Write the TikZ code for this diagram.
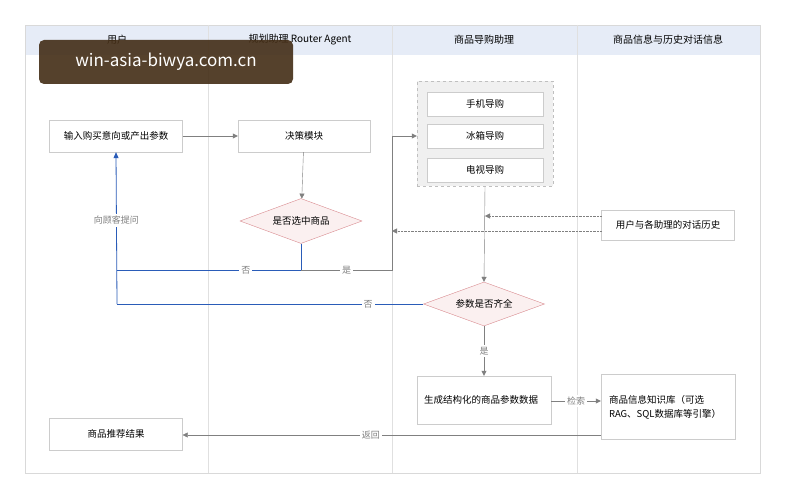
\documentclass[tikz,border=0pt]{standalone}
\usepackage{fontspec}
\setmainfont{Noto Sans CJK SC}
\usetikzlibrary{shapes.geometric,arrows.meta}
\definecolor{laneblue}{HTML}{E6ECF7}
\definecolor{flowblue}{HTML}{2A5CB8}
\definecolor{diared}{HTML}{D98A8F}
\definecolor{diafill}{HTML}{FBF0F0}
\tikzset{
  box/.style={draw=black!20, fill=white, minimum height=32pt, font=\fontsize{9.5}{14}\selectfont},
  dia/.style={diamond, aspect=2.7, draw=diared, fill=diafill, inner sep=1pt, font=\fontsize{9.5}{11}\selectfont},
  flow/.style={draw=black!50, -{Triangle[length=5pt,width=5pt]}},
  back/.style={draw=flowblue, thick},
  lbl/.style={fill=white, text=black!50, font=\fontsize{9}{10}\selectfont, inner sep=2pt},
  lane/.style={font=\fontsize{10}{11}\selectfont}
}
\begin{document}
\begin{tikzpicture}[x=1pt,y=-1pt]
\useasboundingbox (0,0) rectangle (785,500);
\fill[white] (0,0) rectangle (785,500);
% lanes
\fill[laneblue] (25,25) rectangle (760,55);
\draw[black!15] (25,25) rectangle (760,473);
\foreach \x in {208,392,577} \draw[black!12] (\x,25) -- (\x,473);
\node[lane] (hU) at (117,40) {用户};
\node[lane] (hR) at (300,40) {规划助理 Router Agent};
\node[lane] (hS) at (484,40) {商品导购助理};
\node[lane] (hI) at (668,40) {商品信息与历史对话信息};

% nodes
\node[box, minimum width=133pt] (in) at (116,136) {输入购买意向或产出参数};
\node[box, minimum width=132pt] (dec) at (304,136) {决策模块};
\node[dia, minimum width=122pt, minimum height=45pt] (sel) at (301,221) {是否选中商品};
\node[draw=black!25, dashed, fill=black!6, minimum width=136pt, minimum height=105pt] (grp) at (485,134) {};
\node[box, minimum width=116pt, minimum height=24pt] (phone) at (485,104) {手机导购};
\node[box, minimum width=116pt, minimum height=24pt] (fridge) at (485,136) {冰箱导购};
\node[box, minimum width=116pt, minimum height=24pt] (tv) at (485,170) {电视导购};
\node[box, minimum width=133pt, minimum height=30pt] (hist) at (668,225) {用户与各助理的对话历史};
\node[dia, minimum width=121pt, minimum height=44pt] (param) at (484,304) {参数是否齐全};
\node[box, minimum width=134pt, minimum height=48pt, text width=120pt, align=left] (gen) at (484,400) {生成结构化的商品参数数据};
\node[box, minimum width=134pt, minimum height=65pt, text width=118pt, align=justify] (kb) at (668,407) {商品信息知识库（可选 RAG、SQL数据库等引擎）};
\node[box, minimum width=133pt] (rec) at (116,434) {商品推荐结果};

% connectors
\draw[flow] (in) -- (dec);
\draw[flow] (dec) -- (sel);
\coordinate (sb) at (301,270);
\coordinate (ub) at (117,270);
\draw[back] (sel.south) -- (sb) -- node[lbl, pos=.3]{否} (ub);
\draw[back, -{Triangle[length=6pt,width=5pt]}] (117,304) -- node[lbl, pos=.55]{向顾客提问} (in.south);
\draw[back] (param.west) -- node[lbl, pos=.18]{否} (117,304);
\draw[flow] (sb) -- node[lbl, pos=.5]{是} (392,270) -- (392,136) -- (grp.west |- 392,136);
\draw[flow] (grp.south) -- (param.north);
\draw[flow, densely dotted] (hist.west |- 0,216) -- (485,216);
\draw[flow, densely dotted] (hist.west |- 0,231) -- (392,231);
\draw[flow] (param.south) -- node[lbl]{是} (gen.north);
\draw[flow] (gen.east |- 0,401) -- node[lbl]{检索} (kb.west |- 0,401);
\draw[flow] (kb.west |- 0,435) -- node[lbl, pos=.55]{返回} (rec.east |- 0,435);

% watermark
\node[fill=black!65!brown, fill opacity=.9, text=white, text opacity=1, rounded corners=5pt, minimum width=254pt, minimum height=44pt, font=\fontsize{17}{20}\selectfont] (wm) at (166,62) {win-asia-biwya.com.cn};
\end{tikzpicture}
\end{document}
